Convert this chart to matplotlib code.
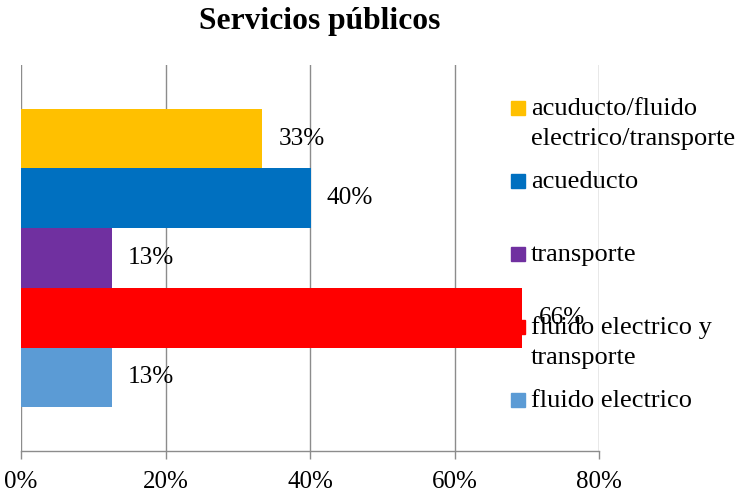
import matplotlib.pyplot as plt
from matplotlib.patches import Rectangle

plt.rcParams['font.family'] = ['Liberation Serif', 'DejaVu Serif']

# datos (de abajo hacia arriba)
categorias = ['fluido electrico', 'fluido electrico y\ntransporte', 'transporte',
              'acueducto', 'acuducto/fluido\nelectrico/transporte']
valores = [12.6, 69.4, 12.6, 40.1, 33.4]
etiquetas = ['13%', '66%', '13%', '40%', '33%']
colores = ['#5B9BD5', '#FF0000', '#7030A0', '#0070C0', '#FFC000']
ticks_x = [0, 20, 40, 60, 80]

W, H = 736, 496
fig = plt.figure(figsize=(W / 100, H / 100), dpi=100)

# area de trazado en pixeles
x0, x1, y_top, y_bot = 21, 599, 65, 451
ax = fig.add_axes([x0 / W, (H - y_bot) / H, (x1 - x0) / W, (y_bot - y_top) / H])

pos = list(range(len(valores)))
ax.barh(pos, valores, height=1.0, color=colores, zorder=2)
ax.set_xlim(0, 80)
ax.set_ylim(-1.233, 4.233 + 1.0)

for p, v, t in zip(pos, valores, etiquetas):
    ax.annotate(t, (v, p), xytext=(11.5, 0), textcoords='offset points',
                va='center', ha='left', fontsize=18.2, color='black', zorder=3)

ax.set_xticks(ticks_x)
ax.set_xticklabels([f'{t}%' for t in ticks_x], fontsize=18)
ax.set_yticks([])
ax.grid(axis='x', color='#8C8C8C', linewidth=1.0, zorder=0)
for s in ['top', 'right', 'left']:
    ax.spines[s].set_visible(False)
ax.spines['bottom'].set_color('#8C8C8C')
ax.spines['bottom'].set_linewidth(1.0)
ax.tick_params(axis='x', direction='out', length=6, width=1.0, color='#8C8C8C', pad=8.5)

# titulo
fig.text(320 / W, 1 - 21 / H, 'Servicios públicos', ha='center', va='center',
         fontsize=22.7, fontweight='bold')

# leyenda manual (de arriba hacia abajo)
centros = [108, 181, 254, 327, 400]
for c, cat, col in zip(centros, categorias[::-1], colores[::-1]):
    fig.patches.append(Rectangle((511 / W, 1 - (c + 7) / H), 14 / W, 14 / H,
                                 transform=fig.transFigure, color=col, figure=fig))
    for k, linea in enumerate(cat.split('\n')):
        fig.text(531 / W, 1 - (c + 7 + 30 * k) / H, linea, ha='left', va='baseline',
                 fontsize=19)

fig.savefig('out.png', dpi=100)
